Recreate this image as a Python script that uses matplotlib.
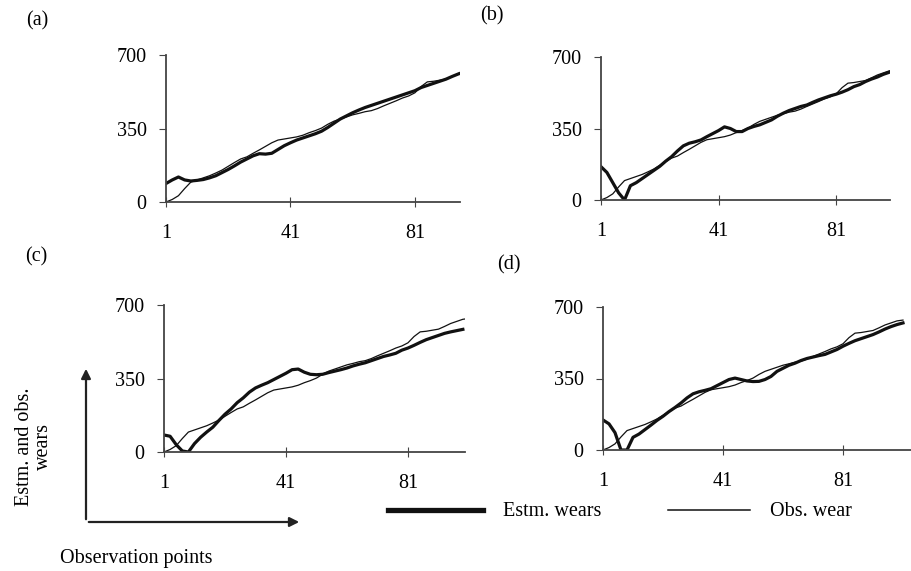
import numpy as np
import matplotlib
matplotlib.use('Agg')
import matplotlib.pyplot as plt
from matplotlib.patches import FancyArrowPatch
from matplotlib.lines import Line2D

plt.rcParams['font.family'] = ['Liberation Serif', 'DejaVu Serif']

# observation points (every second point)
x = np.arange(1, 102, 2)

# observed wear, same in every panel
obs_wear = [0, 12, 30, 64, 95, 105, 115, 125, 138, 152,
            170, 188, 205, 215, 232, 248, 265, 282, 295, 300,
            305, 310, 318, 330, 340, 352, 370, 385, 395, 405,
            415, 422, 430, 435, 445, 458, 470, 482, 495, 505,
            520, 550, 572, 575, 580, 585, 598, 612, 622, 632, 636]

# estimated wears, one per panel
estm_a = [88, 105, 119, 105, 100, 103, 107, 115, 125, 140,
          155, 172, 190, 205, 220, 230, 228, 232, 250, 268,
          282, 295, 305, 315, 325, 337, 355, 375, 395, 410,
          425, 438, 450, 460, 470, 480, 490, 500, 510, 520,
          530, 545, 555, 565, 575, 585, 598, 610, 620, 630, 640]

estm_b = [163, 135, 85, 35, 0, 70, 85, 105, 125, 145,
          165, 190, 212, 240, 265, 278, 285, 294, 310, 325,
          340, 358, 350, 335, 335, 350, 360, 368, 380, 392,
          410, 425, 438, 448, 458, 465, 478, 490, 500, 510,
          518, 528, 540, 555, 565, 580, 592, 602, 615, 625, np.nan]

estm_c = [81, 75, 35, 5, 0, 40, 70, 95, 118, 150,
          180, 205, 235, 258, 285, 305, 318, 330, 345, 360,
          375, 392, 395, 380, 370, 368, 370, 378, 385, 392,
          400, 410, 418, 425, 435, 445, 455, 462, 470, 485,
          495, 508, 522, 535, 545, 555, 565, 572, 578, 584, np.nan]

estm_d = [147, 128, 85, 0, 0, 62, 78, 100, 122, 145,
          165, 188, 208, 230, 255, 275, 285, 292, 300, 315,
          330, 345, 352, 345, 338, 335, 336, 345, 360, 385,
          400, 415, 425, 438, 448, 455, 462, 468, 480, 492,
          508, 522, 535, 545, 555, 565, 578, 592, 604, 614, 622]

panel_labels = ['(a)', '(b)', '(c)', '(d)']
estm_series = [estm_a, estm_b, estm_c, estm_d]
x_ticks = [1, 41, 81]
y_ticks = [0, 350, 700]

W, H = 912, 571
fig = plt.figure(figsize=(W / 100, H / 100), dpi=100)

# axes boxes in pixels: left, right, top, bottom
boxes = [(166, 460, 55, 202), (601, 890, 57, 200),
         (164, 465, 305, 452), (603, 912, 307, 450)]
x_right = [95.5, 99.3, 99.7, 104]
label_pos = [(26, 21), (480, 16), (25, 257), (497, 265)]

fs = 14.5
spine_col = '#444444'
for i, (l, r, t, b) in enumerate(boxes):
    ax = fig.add_axes([l / W, 1 - b / H, (r - l) / W, (b - t) / H])
    ax.plot(x, obs_wear, color='#111111', lw=0.9)
    ax.plot(x, estm_series[i], color='#111111', lw=2.3)
    ax.set_xlim(1, x_right[i])
    ax.set_ylim(0, 700)
    ax.set_xticks(x_ticks)
    ax.set_yticks(y_ticks)
    for s in ['top', 'right']:
        ax.spines[s].set_visible(False)
    for s in ['left', 'bottom']:
        ax.spines[s].set_color(spine_col)
        ax.spines[s].set_linewidth(1.3)
    ax.tick_params(axis='y', direction='out', length=5, pad=9,
                   labelsize=fs, color=spine_col)
    ax.tick_params(axis='x', direction='inout', length=7, pad=12,
                   labelsize=fs, color=spine_col)
    lx, ly = label_pos[i]
    fig.text(lx / W, 1 - ly / H, panel_labels[i], fontsize=fs,
             ha='left', va='center')

# axis arrows in the lower left corner
ox, oy = 86 / W, 1 - 522 / H
fig.add_artist(FancyArrowPatch((ox, oy), (ox, 1 - 366 / H), transform=fig.transFigure,
                               arrowstyle='-|>', mutation_scale=14, lw=1.6, color='#222222'))
fig.add_artist(FancyArrowPatch((ox, oy), (302 / W, oy), transform=fig.transFigure,
                               arrowstyle='-|>', mutation_scale=14, lw=1.6, color='#222222'))
fig.text(34 / W, 1 - 447 / H, 'Estm. and obs.\nwears', rotation=90, fontsize=fs,
         ha='center', va='center', multialignment='center', linespacing=1.0)
fig.text(60 / W, 1 - 558 / H, 'Observation points', fontsize=fs, ha='left', va='center')

# legend
ly = 1 - 510 / H
fig.add_artist(Line2D([388 / W, 483 / W], [ly, ly], transform=fig.transFigure,
                      color='#111111', lw=3.8))
fig.text(503 / W, 1 - 512 / H, 'Estm. wears', fontsize=fs, ha='left', va='center')
fig.add_artist(Line2D([668 / W, 750 / W], [ly, ly], transform=fig.transFigure,
                      color='#111111', lw=1.1))
fig.text(770 / W, 1 - 512 / H, 'Obs. wear', fontsize=fs, ha='left', va='center')

fig.savefig('out.png', dpi=100)
